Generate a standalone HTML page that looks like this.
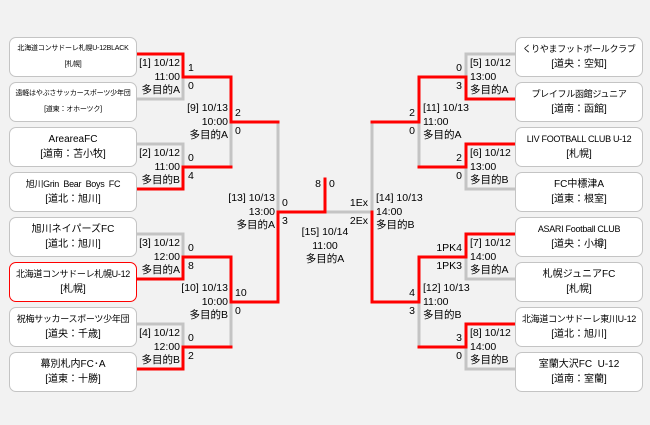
<!DOCTYPE html>
<html><head><meta charset="utf-8"><style>
body{margin:0;}
#c{position:relative;width:650px;height:425px;background:#f2f2f2;overflow:hidden;font-family:"Liberation Sans","Noto Sans CJK JP",sans-serif;color:#000;}
.b{position:absolute;width:126px;background:#fff;border:1px solid #c4c4c4;border-radius:7px;text-align:center;font-size:10px;line-height:15px;padding-top:4px;box-sizing:content-box;height:34px;white-space:nowrap;overflow:hidden;}
.b .n{font-size:9px;letter-spacing:-0.3px;}
.s{font-size:7px;line-height:16px;padding-top:3px;height:35px;letter-spacing:-0.2px;}
.t{position:absolute;font-size:10.5px;line-height:13.5px;white-space:nowrap;}
.r{text-align:right;}
svg{position:absolute;left:0;top:0;}
</style></head><body><div id="c">
<svg width="650" height="425" fill="none" stroke-width="3" stroke-linecap="square">
<g stroke="#c4c4c4">
<path d="M137 99H183V77"/><path d="M137 144H183V167"/><path d="M231 122V167"/>
<path d="M137 234H183V257"/><path d="M137 324H183V347"/><path d="M231 302V347"/>
<path d="M278 122V212"/>
<path d="M514 54H466V77"/><path d="M514 189H466V167"/><path d="M419 122V167"/>
<path d="M514 279H466V257"/><path d="M514 369H466V347"/><path d="M419 302V347"/>
<path d="M325 212H372V122"/>
</g>
<g stroke="#ff0000">
<path d="M137 54H183V77H231V122H278"/>
<path d="M137 189H183V167H231"/>
<path d="M137 279H183V257H231V302H278V212H325V179"/>
<path d="M137 369H183V347H231"/>
<path d="M514 99H466V77H419V122H372"/>
<path d="M514 144H466V167H419"/>
<path d="M514 234H466V257H419V302H372V212"/>
<path d="M514 324H466V347H419"/>
</g>
</svg>
<div class="b s" style="left:9px;top:37px">北海道コンサドーレ札幌U-12BLACK<br>[札幌]</div>
<div class="b s" style="left:9px;top:82px">遠軽はやぶさサッカースポーツ少年団<br>[道東：オホーツク]</div>
<div class="b" style="left:9px;top:127px">AreareaFC<br>[道南：苫小牧]</div>
<div class="b" style="left:9px;top:172px"><span class="n">旭川Grin&nbsp; Bear&nbsp; Boys&nbsp; FC</span><br>[道北：旭川]</div>
<div class="b" style="left:9px;top:217px">旭川ネイパーズFC<br>[道北：旭川]</div>
<div class="b" style="left:9px;top:262px;border-color:#f00"><span class="n">北海道コンサドーレ札幌U-12</span><br>[札幌]</div>
<div class="b" style="left:9px;top:307px"><span class="n">祝梅サッカースポーツ少年団</span><br>[道央：千歳]</div>
<div class="b" style="left:9px;top:352px">幕別札内FC･A<br>[道東：十勝]</div>
<div class="b" style="left:515px;top:37px"><span class="n">くりやまフットボールクラブ</span><br>[道央：空知]</div>
<div class="b" style="left:515px;top:82px"><span class="n">プレイフル函館ジュニア</span><br>[道南：函館]</div>
<div class="b" style="left:515px;top:127px"><span class="n">LIV FOOTBALL CLUB U-12</span><br>[札幌]</div>
<div class="b" style="left:515px;top:172px">FC中標津A<br>[道東：根室]</div>
<div class="b" style="left:515px;top:217px"><span class="n">ASARI Football CLUB</span><br>[道央：小樽]</div>
<div class="b" style="left:515px;top:262px">札幌ジュニアFC<br>[札幌]</div>
<div class="b" style="left:515px;top:307px"><span class="n">北海道コンサドーレ東川U-12</span><br>[道北：旭川]</div>
<div class="b" style="left:515px;top:352px">室蘭大沢FC&nbsp; U-12<br>[道南：室蘭]</div>
<div class="t r" style="right:470px;top:57px">[1] 10/12<br>11:00<br>多目的A</div>
<div class="t r" style="right:470px;top:147px">[2] 10/12<br>11:00<br>多目的B</div>
<div class="t r" style="right:470px;top:237px">[3] 10/12<br>12:00<br>多目的A</div>
<div class="t r" style="right:470px;top:327px">[4] 10/12<br>12:00<br>多目的B</div>
<div class="t r" style="right:422px;top:102px">[9] 10/13<br>10:00<br>多目的A</div>
<div class="t r" style="right:422px;top:282px">[10] 10/13<br>10:00<br>多目的B</div>
<div class="t r" style="right:375px;top:192px">[13] 10/13<br>13:00<br>多目的A</div>
<div class="t" style="left:290px;width:70px;text-align:center;top:226px">[15] 10/14<br>11:00<br>多目的A</div>
<div class="t" style="left:376px;top:192px">[14] 10/13<br>14:00<br>多目的B</div>
<div class="t" style="left:423px;top:102px">[11] 10/13<br>11:00<br>多目的A</div>
<div class="t" style="left:423px;top:282px">[12] 10/13<br>11:00<br>多目的B</div>
<div class="t" style="left:470px;top:57px">[5] 10/12<br>13:00<br>多目的A</div>
<div class="t" style="left:470px;top:147px">[6] 10/12<br>13:00<br>多目的B</div>
<div class="t" style="left:470px;top:237px">[7] 10/12<br>14:00<br>多目的A</div>
<div class="t" style="left:470px;top:327px">[8] 10/12<br>14:00<br>多目的B</div>
<div class="t" style="left:188px;top:62px">1</div><div class="t" style="left:188px;top:80px">0</div>
<div class="t" style="left:188px;top:152px">0</div><div class="t" style="left:188px;top:170px">4</div>
<div class="t" style="left:188px;top:242px">0</div><div class="t" style="left:188px;top:260px">8</div>
<div class="t" style="left:188px;top:332px">0</div><div class="t" style="left:188px;top:350px">2</div>
<div class="t" style="left:235px;top:107px">2</div><div class="t" style="left:235px;top:125px">0</div>
<div class="t" style="left:235px;top:287px">10</div><div class="t" style="left:235px;top:305px">0</div>
<div class="t" style="left:282px;top:197px">0</div><div class="t" style="left:282px;top:215px">3</div>
<div class="t r" style="right:329px;top:178px">8</div><div class="t" style="left:329px;top:178px">0</div>
<div class="t r" style="right:282px;top:197px">1Ex</div><div class="t r" style="right:282px;top:215px">2Ex</div>
<div class="t r" style="right:235px;top:107px">2</div><div class="t r" style="right:235px;top:125px">0</div>
<div class="t r" style="right:235px;top:287px">4</div><div class="t r" style="right:235px;top:305px">3</div>
<div class="t r" style="right:188px;top:62px">0</div><div class="t r" style="right:188px;top:80px">3</div>
<div class="t r" style="right:188px;top:152px">2</div><div class="t r" style="right:188px;top:170px">0</div>
<div class="t r" style="right:188px;top:242px">1PK4</div><div class="t r" style="right:188px;top:260px">1PK3</div>
<div class="t r" style="right:188px;top:332px">3</div><div class="t r" style="right:188px;top:350px">0</div>
</div></body></html>
